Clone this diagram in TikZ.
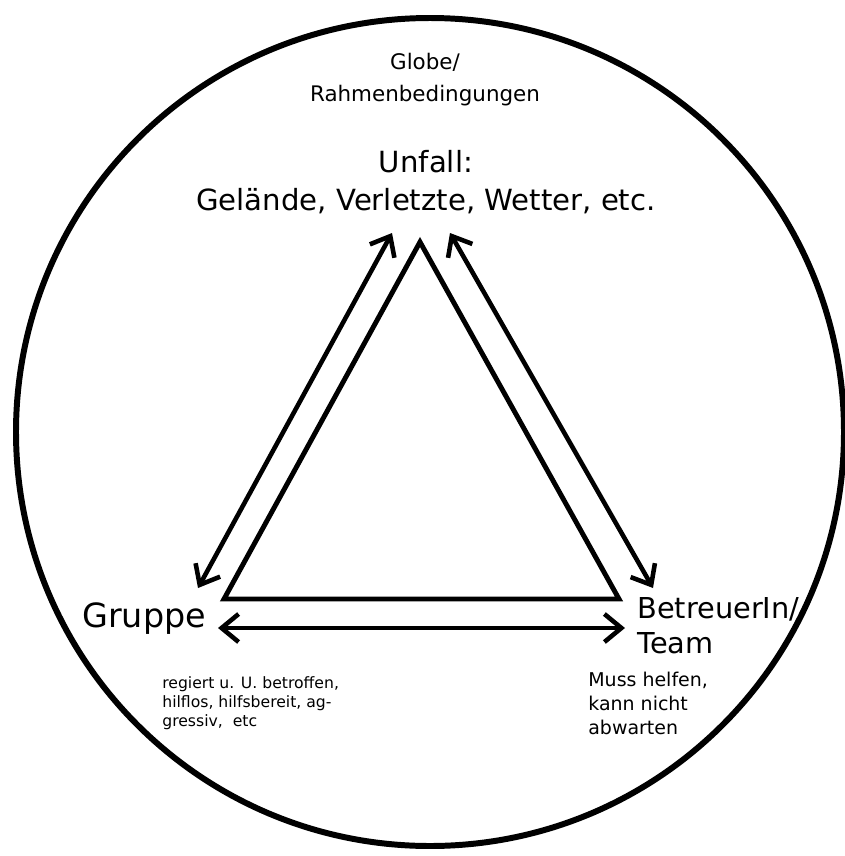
\documentclass[tikz,border=0pt]{standalone}
\usepackage{fontspec}
\setmainfont{DejaVu Sans}
\usetikzlibrary{arrows.meta}

\tikzset{
  edge/.style={line width=2.8pt, line join=miter},
  link/.style={line width=2.6pt, {Straight Barb[length=3.4mm, width=5.6mm]}-{Straight Barb[length=3.4mm, width=5.6mm]}},
  label/.style={inner sep=0pt, align=center},
  note/.style={inner sep=0pt, align=left}
}

\begin{document}
\begin{tikzpicture}[x=0.02cm, y=-0.02cm]

\useasboundingbox (0,0) rectangle (845,856);

% =============== GLOBE ===============
\draw[line width=3.4pt] (430,432) circle (414);
\node[label, anchor=north, font=\fontsize{12.2}{18.2}\selectfont] (globe) at (425,53) {Globe/\\Rahmenbedingungen};

% =============== TRIANGLE ===============
\coordinate (top) at (420,242);
\coordinate (left) at (224,599);
\coordinate (right) at (619,599);
\draw[edge] (top) -- (left) -- (right) -- cycle;

% double arrows along the sides
\coordinate (lt) at (392,233);
\coordinate (lb) at (198,588);
\coordinate (rt) at (450,233);
\coordinate (rb) at (653,588);
\coordinate (bl) at (218,628);
\coordinate (br) at (625,628);
\draw[link] (lt) -- (lb);
\draw[link] (rt) -- (rb);
\draw[link] (bl) -- (br);

% =============== CORNERS ===============
\node[label, anchor=north, font=\fontsize{16.6}{21.6}\selectfont] (unfall) at (426,150) {Unfall:\\Gelände, Verletzte, Wetter, etc.};
\node[label, anchor=base west, font=\fontsize{19}{22}\selectfont] (gruppe) at (82,627) {Gruppe};
\node[note, anchor=north west, font=\fontsize{16.4}{20}\selectfont] (betreuer) at (637,597) {BetreuerIn/\\Team};

\node[note, anchor=north west, font=\fontsize{8.9}{10.8}\selectfont] (gruppeinfo) at (162,676) {regiert u. U. betroffen,\\hilflos, hilfsbereit, ag-\\gressiv, \ etc};
\node[note, anchor=north west, font=\fontsize{10.8}{13.7}\selectfont] (betreuerinfo) at (588,672) {Muss helfen,\\kann nicht\\abwarten};

\end{tikzpicture}
\end{document}
